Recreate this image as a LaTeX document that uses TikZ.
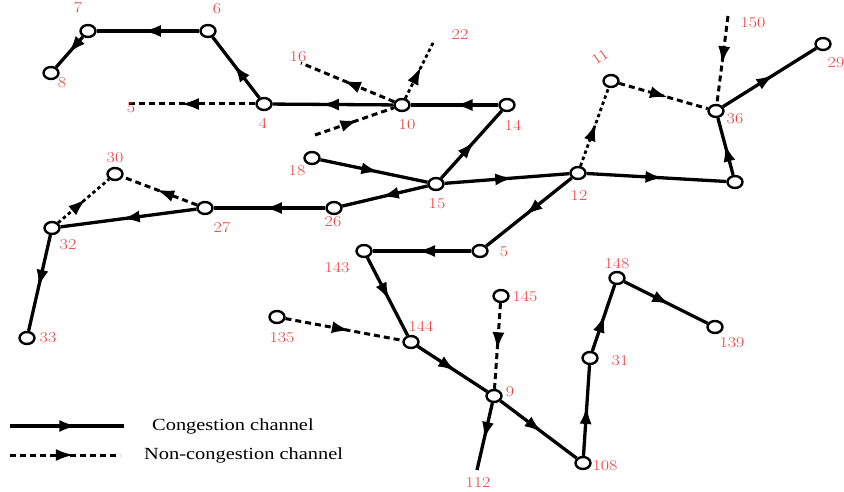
\documentclass[tikz,border=0pt]{standalone}
\usepackage{graphicx}
\usepackage{fontspec}
\newfontfamily\legendfont{Liberation Serif}
\usetikzlibrary{arrows.meta,decorations.markings,shapes.geometric}
\definecolor{lblred}{RGB}{236,60,60}
% labels are set slightly wide
\newcommand\wide[1]{\scalebox{1.2}[1]{#1}}
\tikzset{
  vtx/.style={ellipse, draw, line width=2.4pt, fill=white,
    minimum width=15pt, minimum height=12pt, inner sep=0pt},
  lbl/.style={text=lblred, font=\fontsize{15}{15}\selectfont, inner sep=0pt},
  flow/.style={line width=3.3pt, postaction={decorate},
    decoration={markings, mark=at position #1 with {\arrow{Latex[length=18pt,width=12pt]}}}},
  flow/.default=0.55,
  cong/.style={flow=#1},
  cong/.default=0.55,
  noncong/.style={flow=#1, line width=3pt, dash pattern=on 6pt off 4pt},
  noncong/.default=0.55,
  fineline/.style={flow=#1, line width=2.8pt, dash pattern=on 3.5pt off 3pt},
  fineline/.default=0.55,
}
\begin{document}
\begin{tikzpicture}[x=1pt,y=-1pt]
\useasboundingbox (0,0) rectangle (844,492);

% vertices
\node[vtx] (n7) at (88,31) {};
\node[vtx] (n6) at (208,31) {};
\node[vtx] (n8) at (51,73) {};
\node[vtx] (n4) at (264,104) {};
\node[vtx] (n10) at (402,105) {};
\node[vtx] (n14) at (507,105) {};
\node[vtx] (n15) at (436,184) {};
\node[vtx] (n18) at (312,158) {};
\node[vtx] (n26) at (334,208) {};
\node[vtx] (n27) at (205,208) {};
\node[vtx] (n30) at (115,174) {};
\node[vtx] (n32) at (52,228) {};
\node[vtx] (n33) at (27,338) {};
\node[vtx] (n12) at (578,173) {};
\node[vtx] (n11) at (611,81) {};
\node[vtx] (n36) at (716,111) {};
\node[vtx] (nR) at (735,182) {};
\node[vtx] (n29) at (823,44) {};
\node[vtx] (n5b) at (480,251) {};
\node[vtx] (n143) at (364,251) {};
\node[vtx] (n144) at (411,342) {};
\node[vtx] (n135) at (277,317) {};
\node[vtx] (n145) at (501,296) {};
\node[vtx] (n9) at (494,396) {};
\node[vtx] (n108) at (583,463) {};
\node[vtx] (n31) at (590,358) {};
\node[vtx] (n148) at (617,278) {};
\node[vtx] (n139) at (715,327) {};

% open ends
\coordinate (e5) at (127,104);
\coordinate (e16) at (301,63);
\coordinate (e22) at (434,41);
\coordinate (ein) at (315,135);
\coordinate (e150) at (728,16);
\coordinate (e112) at (477,470);

% congestion channels
\draw[cong] (n6) -- (n7);
\draw[cong] (n7) -- (n8);
\draw[cong] (n4) -- (n6);
\draw[cong=0.6] (n10) -- (n4);
\draw[cong=0.5] (n14) -- (n10);
\draw[cong] (n15) -- (n14);
\draw[cong] (n18) -- (n15);
\draw[cong] (n15) -- (n26);
\draw[cong] (n15) -- (n12);
\draw[cong] (n26) -- (n27);
\draw[cong] (n27) -- (n32);
\draw[cong] (n32) -- (n33);
\draw[cong] (n12) -- (nR);
\draw[cong] (nR) -- (n36);
\draw[cong] (n36) -- (n29);
\draw[cong] (n12) -- (n5b);
\draw[cong] (n5b) -- (n143);
\draw[cong] (n143) -- (n144);
\draw[cong] (n144) -- (n9);
\draw[cong] (n9) -- (e112);
\draw[cong] (n9) -- (n108);
\draw[cong] (n108) -- (n31);
\draw[cong] (n31) -- (n148);
\draw[cong] (n148) -- (n139);

% non-congestion channels
\draw[noncong=0.58] (n4) -- (e5);
\draw[noncong] (n10) -- (e16);
\draw[fineline] (n10) -- (e22);
\draw[noncong] (ein) -- (n10);
\draw[noncong] (n27) -- (n30);
\draw[fineline] (n32) -- (n30);
\draw[fineline] (n12) -- (n11);
\draw[noncong] (n11) -- (n36);
\draw[noncong] (e150) -- (n36);
\draw[noncong] (n135) -- (n144);
\draw[noncong] (n145) -- (n9);

% vertex labels
\node[lbl] (l7) at (78,8) {\wide{7}};
\node[lbl] (l6) at (217,9) {\wide{6}};
\node[lbl] (l8) at (62,83) {\wide{8}};
\node[lbl] (l5a) at (131,108) {\wide{5}};
\node[lbl] (l4) at (263,123) {\wide{4}};
\node[lbl] (l16) at (298,57) {\wide{16}};
\node[lbl] (l22) at (460,35) {\wide{22}};
\node[lbl] (l10) at (407,125) {\wide{10}};
\node[lbl] (l14) at (513,125) {\wide{14}};
\node[lbl, rotate=35] (l11) at (600,57) {\wide{11}};
\node[lbl] (l150) at (753,23) {\wide{150}};
\node[lbl] (l29) at (836,63) {\wide{29}};
\node[lbl] (l36) at (735,119) {\wide{36}};
\node[lbl] (l18) at (297,171) {\wide{18}};
\node[lbl] (l15) at (437,204) {\wide{15}};
\node[lbl] (l12) at (579,196) {\wide{12}};
\node[lbl] (l26) at (333,222) {\wide{26}};
\node[lbl] (l27) at (222,228) {\wide{27}};
\node[lbl] (l30) at (115,158) {\wide{30}};
\node[lbl] (l32) at (68,245) {\wide{32}};
\node[lbl] (l33) at (48,338) {\wide{33}};
\node[lbl] (l143) at (337,268) {\wide{143}};
\node[lbl] (l5b) at (504,252) {\wide{5}};
\node[lbl] (l145) at (525,297) {\wide{145}};
\node[lbl] (l144) at (421,326) {\wide{144}};
\node[lbl] (l135) at (282,338) {\wide{135}};
\node[lbl] (l9) at (510,392) {\wide{9}};
\node[lbl] (l148) at (617,264) {\wide{148}};
\node[lbl] (l31) at (620,361) {\wide{31}};
\node[lbl] (l139) at (732,343) {\wide{139}};
\node[lbl] (l112) at (478,483) {\wide{112}};
\node[lbl] (l108) at (605,466) {\wide{108}};

% legend
\coordinate (lgA1) at (10,426);
\coordinate (lgA2) at (124,426);
\coordinate (lgB1) at (10,455);
\coordinate (lgB2) at (120,455);
\draw[cong=0.59] (lgA1) -- (lgA2);
\draw[noncong=0.58] (lgB1) -- (lgB2);
\node[anchor=west, inner sep=0pt, font=\legendfont\fontsize{17}{17}\selectfont] (tA) at (152,426) {\wide{Congestion channel}};
\node[anchor=west, inner sep=0pt, font=\legendfont\fontsize{17}{17}\selectfont] (tB) at (144,455) {\wide{Non-congestion channel}};
\end{tikzpicture}
\end{document}
